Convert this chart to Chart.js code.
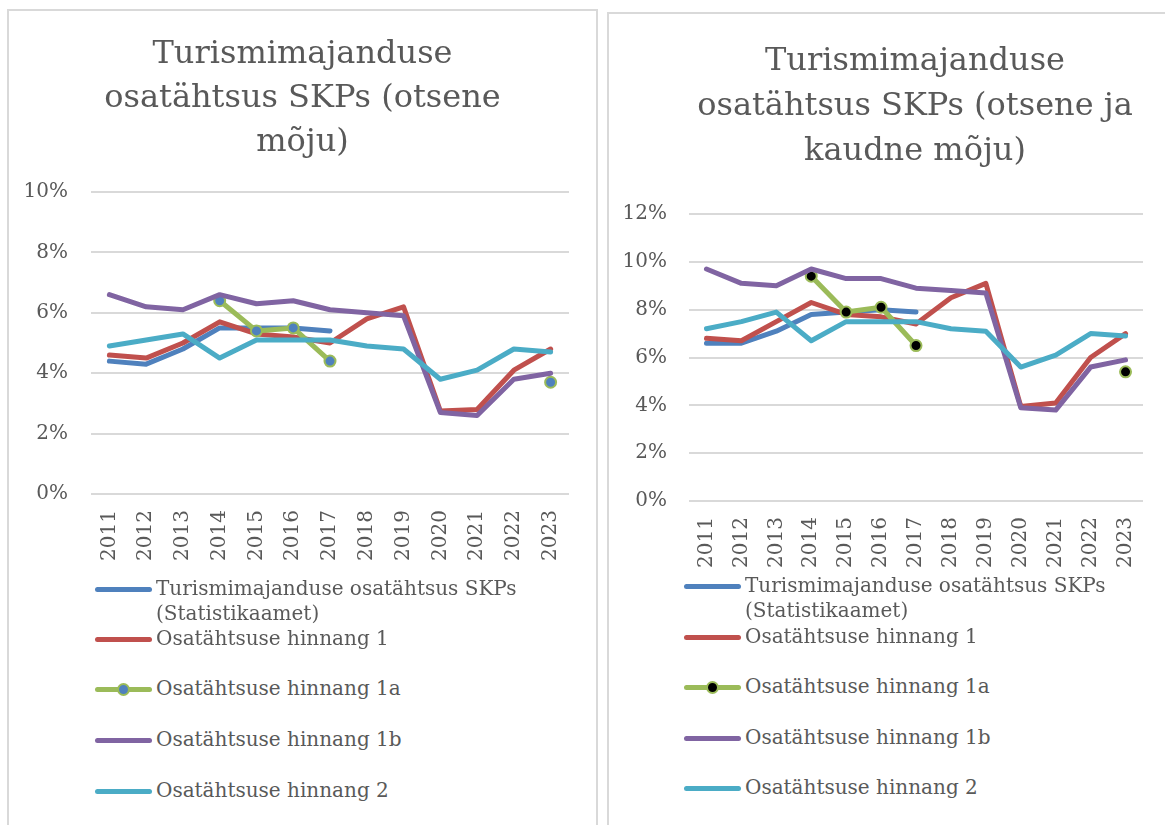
<!DOCTYPE html>
<html><head><meta charset="utf-8">
<script src="https://cdn.jsdelivr.net/npm/chart.js@4.4.1/dist/chart.umd.min.js"></script>
<style>
html,body{margin:0;padding:0;background:#fff;width:1165px;height:825px;overflow:hidden;position:relative;font-family:'DejaVu Serif',serif;}
.panel{position:absolute;border:2px solid #d9d9d9;box-sizing:border-box;}
canvas{position:absolute;}
.lg{position:absolute;font-size:20px;line-height:25px;color:#595959;width:400px;}
.sw{position:absolute;height:5px;border-radius:3px;}
.mk{position:absolute;width:9px;height:9px;border-radius:50%;border:2px solid #9BBB59;}
</style></head><body>
<div class="panel" style="left:7px;top:9px;width:591px;height:840px"></div>
<div class="panel" style="left:607px;top:12px;width:640px;height:840px"></div>
<canvas id="c1" width="587" height="570" style="left:9px;top:11px"></canvas>
<canvas id="c2" width="612" height="570" style="left:609px;top:14px"></canvas>
<div id="lg1"></div><div id="lg2"></div>
<script>
const years = ['2011','2012','2013','2014','2015','2016','2017','2018','2019','2020','2021','2022','2023'];
const seriesNames = ['Turismimajanduse osatähtsus SKPs (Statistikaamet)','Osatähtsuse hinnang 1','Osatähtsuse hinnang 1a','Osatähtsuse hinnang 1b','Osatähtsuse hinnang 2'];
const seriesColors = ['#4F81BD','#C0504D','#9BBB59','#8064A2','#4BACC6'];
const title1 = ['Turismimajanduse','osatähtsus SKPs (otsene','mõju)'];
const title2 = ['Turismimajanduse','osatähtsus SKPs (otsene ja','kaudne mõju)'];

// Chart 1: otsene mõju (%)
const d1Stat = [4.4,4.3,4.8,5.5,5.5,5.5,5.4,null,null,null,null,null,null];
const d1H1   = [4.6,4.5,5.0,5.7,5.3,5.2,5.0,5.8,6.2,2.75,2.8,4.1,4.8];
const d1H1a  = [null,null,null,6.4,5.4,5.5,4.4,null,null,null,null,null,3.7];
const d1H1b  = [6.6,6.2,6.1,6.6,6.3,6.4,6.1,6.0,5.9,2.7,2.6,3.8,4.0];
const d1H2   = [4.9,5.1,5.3,4.5,5.1,5.1,5.1,4.9,4.8,3.8,4.1,4.8,4.7];

// Chart 2: otsene ja kaudne mõju (%)
const d2Stat = [6.6,6.6,7.1,7.8,7.9,8.0,7.9,null,null,null,null,null,null];
const d2H1   = [6.8,6.7,7.5,8.3,7.8,7.7,7.4,8.5,9.1,3.95,4.1,6.0,7.0];
const d2H1a  = [null,null,null,9.4,7.9,8.1,6.5,null,null,null,null,null,5.4];
const d2H1b  = [9.7,9.1,9.0,9.7,9.3,9.3,8.9,8.8,8.7,3.9,3.8,5.6,5.9];
const d2H2   = [7.2,7.5,7.9,6.7,7.5,7.5,7.5,7.2,7.1,5.6,6.1,7.0,6.9];

const TXT = '#595959';
const FONT = 'DejaVu Serif';

function makeChart(id, cfg){
  const series = cfg.data;
  const orders = [5,4,3,2,1];
  const datasets = series.map((d,i)=>({
    label: seriesNames[i],
    data: d,
    borderColor: seriesColors[i],
    backgroundColor: seriesColors[i],
    borderWidth: 5,
    borderCapStyle: 'round',
    borderJoinStyle: 'round',
    tension: 0,
    spanGaps: false,
    order: orders[i],
    pointRadius: i===2 ? 5.5 : 0,
    pointHoverRadius: i===2 ? 5.5 : 0,
    pointBorderWidth: 2,
    pointBorderColor: '#9BBB59',
    pointBackgroundColor: i===2 ? cfg.markerFill : seriesColors[i]
  }));
  return new Chart(document.getElementById(id), {
    type: 'line',
    data: { labels: years, datasets },
    options: {
      responsive: false,
      animation: false,
      devicePixelRatio: 1,
      layout: { padding: 0 },
      plugins: {
        legend: { display: false },
        tooltip: { enabled: false },
        title: {
          display: true, text: cfg.title, color: TXT,
          font: { family: FONT, size: 32, weight: 'normal', lineHeight: cfg.titleLH + 'px' },
          padding: cfg.titlePad
        }
      },
      scales: {
        x: {
          offset: true,
          grid: { display: false, drawTicks: false },
          border: { display: false },
          ticks: { color: TXT, font: { family: FONT, size: 20 }, minRotation: 90, maxRotation: 90, autoSkip: false, padding: 16 },
          afterFit: s => { s.height = cfg.xH; }
        },
        y: {
          min: 0, max: cfg.yMax,
          grid: { color: '#D9D9D9', lineWidth: 2, drawTicks: false },
          border: { display: false },
          ticks: { stepSize: 2, color: TXT, font: { family: FONT, size: 20 }, padding: cfg.yPad, callback: v => v + '%' },
          afterFit: s => { s.width = cfg.yW; }
        },
        yR: {
          position: 'right', display: true,
          grid: { display: false, drawTicks: false },
          border: { display: false },
          ticks: { display: false },
          afterFit: s => { s.width = cfg.rW; }
        }
      }
    }
  });
}

makeChart('c1', { data: [d1Stat,d1H1,d1H1a,d1H1b,d1H2], markerFill: '#4F81BD', title: title1,
  titleLH: 44, titlePad: {top:22,bottom:27}, yMax: 10, xH: 87, yW: 82, rW: 27, yPad: 23 });
makeChart('c2', { data: [d2Stat,d2H1,d2H1a,d2H1b,d2H2], markerFill: '#000000', title: title2,
  titleLH: 45, titlePad: {top:25,bottom:40}, yMax: 12, xH: 83, yW: 80, rW: 78, yPad: 22 });

function buildLegend(el, x0, ys, markerFill){
  let html = '';
  seriesNames.forEach((n,i)=>{
    const y = ys[i];
    html += `<div class="sw" style="left:${x0}px;top:${y-2.5}px;width:57px;background:${seriesColors[i]}"></div>`;
    if(i===2) html += `<div class="mk" style="left:${x0+28.5-6.5}px;top:${y-6.5}px;background:${markerFill}"></div>`;
    html += `<div class="lg" style="left:${x0+61}px;top:${y-13}px">${n}</div>`;
  });
  el.innerHTML = html;
}
buildLegend(document.getElementById('lg1'), 95, [589,639,689,740,791], '#4F81BD');
buildLegend(document.getElementById('lg2'), 684, [586,637,687,738,788], '#000000');
</script>
</body></html>
